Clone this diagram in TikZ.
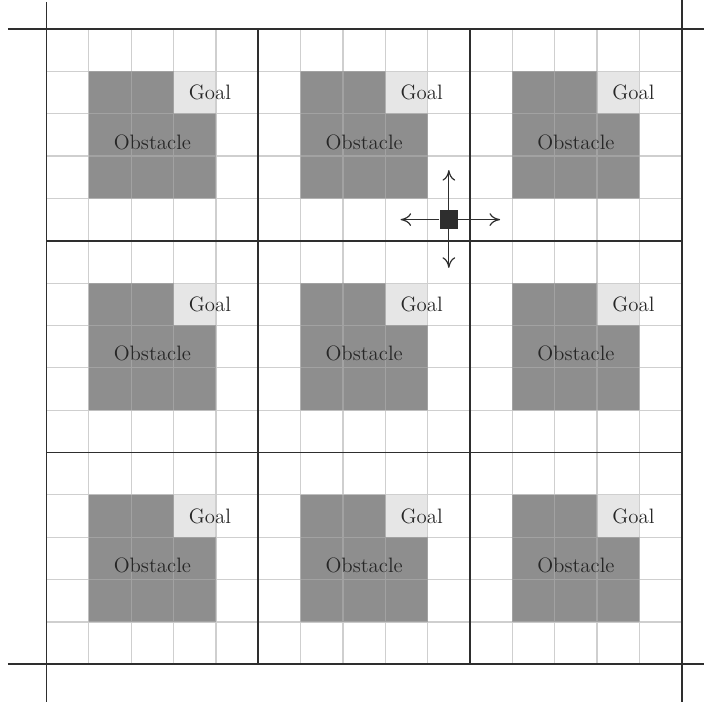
\documentclass[tikz,border=0pt]{standalone}
\usepackage{tikz}
\usetikzlibrary{positioning,arrows.meta}
\definecolor{obstgray}{HTML}{8E8E8E}
\definecolor{goalgray}{HTML}{E6E6E6}
\definecolor{gridgray}{HTML}{CFCFCF}
\definecolor{inkdark}{HTML}{2E2E2E}
\tikzset{
  cellline/.style ={draw=gridgray, line width=0.8pt},
  % the same cell lines, seen through an obstacle
  hidline/.style  ={draw=obstgray!82!white, line width=0.8pt},
  blockline/.style={draw=inkdark, line width=1.3pt},
  obst/.style     ={rectangle, fill=obstgray, minimum size=3cm, inner sep=0pt},
  goalcell/.style ={rectangle, fill=goalgray, minimum size=1cm, inner sep=0pt},
  lbl/.style      ={font=\fontsize{14}{16}\selectfont, text=black!85, inner sep=0pt},
  agent/.style    ={rectangle, fill=inkdark, minimum size=4.3mm, inner sep=0pt},
  % one possible move of the agent
  move/.style     ={draw=inkdark, line width=0.8pt, -{To[length=2.5mm,width=3mm]}},
}
\begin{document}
\begin{tikzpicture}
  \useasboundingbox (-1.098,-0.985) rectangle (15.52,15.685);
  % nine copies of the same room
  \foreach \i in {0,1,2}{
    \foreach \j in {0,1,2}{
      \node[obst] (obs\i\j) at (5*\i+2.5,5*\j+2.5) {};
      \node[goalcell] (goal\i\j) at (5*\i+3.5,5*\j+3.5) {};
    }}
  \draw[cellline] (0,0) grid (15,15);
  \foreach \i in {0,1,2}{
    \foreach \j in {0,1,2}{
      \begin{scope}
        \clip (obs\i\j.south west) rectangle ([xshift=-1cm]obs\i\j.north east)
              (obs\i\j.south west) rectangle ([yshift=-1cm]obs\i\j.north east);
        \draw[hidline] (0,0) grid (15,15);
      \end{scope}
      \node[lbl] (obslbl\i\j) at (5*\i+2.5,5*\j+2.33) {Obstacle};
      \node[lbl] (goallbl\i\j) at ([xshift=3.6mm]goal\i\j.center) {Goal};
    }}
  % room borders
  \foreach \k in {5,10}{
    \draw[blockline] (\k,0) -- (\k,15);
    \draw[blockline] (0,\k) -- (15,\k);
  }
  \draw[blockline] (-0.91,15) -- (15.52,15);
  \draw[blockline] (-0.91,0) -- (15.52,0);
  \draw[blockline] (0,15.64) -- (0,-0.89);
  \draw[blockline] (15,15.685) -- (15,-0.89);
  % agent and its moves
  \node[agent] (agent) at (9.5,10.5) {};
  \coordinate (mvL) at (8.36,10.5);
  \coordinate (mvR) at (10.71,10.5);
  \coordinate (mvU) at (9.5,11.67);
  \coordinate (mvD) at (9.5,9.36);
  \foreach \m in {mvL,mvR,mvU,mvD}
    \draw[move] (agent) -- (\m);
\end{tikzpicture}
\end{document}
